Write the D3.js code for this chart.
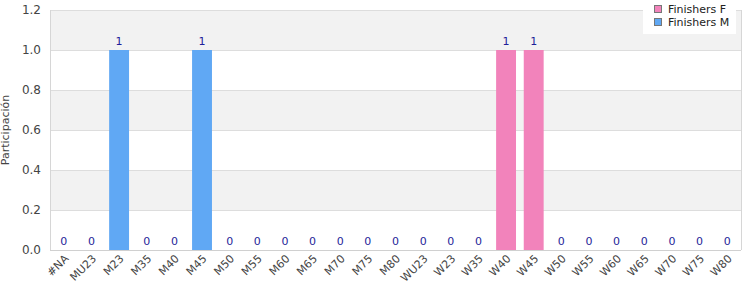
<!DOCTYPE html>
<html>
<head>
<meta charset="utf-8">
<script src="https://cdn.jsdelivr.net/npm/d3@7"></script>
<style>
  body { margin: 0; background: #fff; }
  text { font-family: "DejaVu Sans", sans-serif; }
</style>
</head>
<body>
<div class="container"></div>
<script>
const categories = ['#NA', 'MU23', 'M23', 'M35', 'M40', 'M45', 'M50', 'M55', 'M60', 'M65', 'M70', 'M75', 'M80',
  'WU23', 'W23', 'W35', 'W40', 'W45', 'W50', 'W55', 'W60', 'W65', 'W70', 'W75', 'W80']
const finishersF = [0, 0, 0, 0, 0, 0, 0, 0, 0, 0, 0, 0, 0, 0, 0, 0, 1, 1, 0, 0, 0, 0, 0, 0, 0]
const finishersM = [0, 0, 1, 0, 0, 1, 0, 0, 0, 0, 0, 0, 0, 0, 0, 0, 0, 0, 0, 0, 0, 0, 0, 0, 0]
const yTicks = [0, 0.2, 0.4, 0.6, 0.8, 1.0, 1.2]

const w = 750
const h = 300
const m = { top: 10, right: 9, bottom: 50, left: 50 }

const seriesNames = ['Finishers F', 'Finishers M']
const colors = ['#f283bb', '#60a8f4']

const rows = categories.map((c, i) => ({ cat: c, F: finishersF[i], M: finishersM[i] }))
const stack = d3.stack().keys(['F', 'M'])(rows)

const svg = d3.select('.container')
  .append('svg')
  .attr('width', w)
  .attr('height', h)

const x = d3.scaleBand()
  .domain(categories)
  .range([m.left, w - m.right])
  .paddingInner(0.28)
  .paddingOuter(0.14)

const y = d3.scaleLinear()
  .domain([0, 1.2])
  .range([h - m.bottom, m.top])

// alternating bands
for (let i = 0; i < yTicks.length - 1; i++) {
  svg.append('rect')
    .attr('x', m.left)
    .attr('width', w - m.right - m.left)
    .attr('y', y(yTicks[i + 1]))
    .attr('height', y(yTicks[i]) - y(yTicks[i + 1]))
    .attr('fill', i % 2 === 0 ? '#ffffff' : '#f2f2f2')
}

// grid lines
svg.append('g')
  .selectAll('line')
  .data(yTicks)
  .join('line')
  .attr('x1', m.left)
  .attr('x2', w - m.right)
  .attr('y1', d => Math.round(y(d)) + 0.5)
  .attr('y2', d => Math.round(y(d)) + 0.5)
  .attr('stroke', '#dddddd')

// frame
svg.append('line')
  .attr('x1', m.left + 0.5).attr('x2', m.left + 0.5)
  .attr('y1', m.top).attr('y2', h - m.bottom)
  .attr('stroke', '#d6d6d6')
svg.append('line')
  .attr('x1', w - m.right + 0.5).attr('x2', w - m.right + 0.5)
  .attr('y1', m.top).attr('y2', h - m.bottom)
  .attr('stroke', '#d6d6d6')
svg.append('line')
  .attr('x1', m.left).attr('x2', w - m.right)
  .attr('y1', h - m.bottom + 0.5).attr('y2', h - m.bottom + 0.5)
  .attr('stroke', '#d0d0d0')

// bars
svg.append('g')
  .selectAll('g')
  .data(stack)
  .join('g')
  .attr('fill', (d, i) => colors[i])
  .selectAll('rect')
  .data(d => d)
  .join('rect')
  .attr('x', d => x(d.data.cat))
  .attr('width', x.bandwidth())
  .attr('y', d => y(d[1]))
  .attr('height', d => y(d[0]) - y(d[1]))

// value labels (totals)
svg.append('g')
  .selectAll('text')
  .data(rows)
  .join('text')
  .attr('x', d => x(d.cat) + x.bandwidth() / 2)
  .attr('y', d => y(d.F + d.M) - 5)
  .attr('text-anchor', 'middle')
  .attr('font-size', 11)
  .attr('fill', '#1f1f99')
  .text(d => d.F + d.M)

// y axis
const yAxis = d3.axisLeft(y)
  .tickValues(yTicks)
  .tickFormat(d3.format('.1f'))
  .tickSize(0)
  .tickPadding(9)

svg.append('g')
  .attr('transform', `translate(${m.left}, 0)`)
  .call(yAxis)
  .call(g => g.select('.domain').remove())
  .call(g => g.selectAll('text')
    .attr('font-size', 12)
    .attr('font-family', '"DejaVu Sans", sans-serif')
    .attr('fill', '#444'))

svg.append('text')
  .text('Participación')
  .attr('transform', `translate(9, ${y(0.6)}) rotate(-90)`)
  .attr('text-anchor', 'middle')
  .attr('font-size', 11)
  .attr('fill', '#444')

// x axis
const xAxis = d3.axisBottom(x).tickSize(0).tickPadding(6)
svg.append('g')
  .attr('transform', `translate(0, ${h - m.bottom})`)
  .call(xAxis)
  .call(g => g.select('.domain').remove())
  .call(g => g.selectAll('text')
    .attr('font-size', 11)
    .attr('font-family', '"DejaVu Sans", sans-serif')
    .attr('fill', '#444')
    .attr('text-anchor', 'end')
    .attr('dx', '-0.25em')
    .attr('dy', '0.4em')
    .attr('transform', 'rotate(-45)'))

// legend
const lg = svg.append('g').attr('transform', 'translate(643, 0)')
lg.append('rect')
  .attr('width', 93)
  .attr('height', 34)
  .attr('fill', '#fff')
seriesNames.forEach((s, i) => {
  lg.append('rect')
    .attr('x', 11.5)
    .attr('y', 5.5 + i * 13)
    .attr('width', 7)
    .attr('height', 7)
    .attr('fill', colors[i])
    .attr('stroke', '#777')
  lg.append('text')
    .attr('x', 25)
    .attr('y', 13 + i * 13)
    .attr('font-size', 11)
    .attr('fill', '#222')
    .text(s)
})
</script>
</body>
</html>
